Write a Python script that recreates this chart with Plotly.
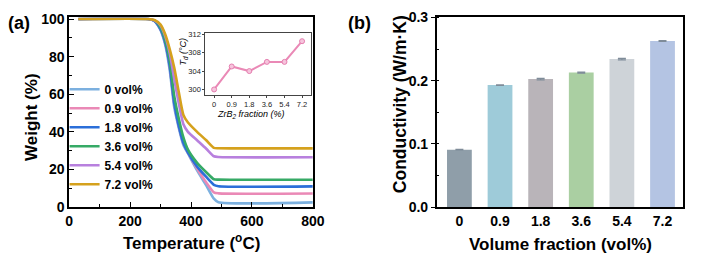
import plotly.graph_objects as go

# ---- Data -------------------------------------------------------------
temp = [30, 260, 280, 300, 315, 330, 345, 360, 375, 390, 420, 450, 475, 490, 800]
w_0_0 = [100, 100, 99.0, 94.0, 86.5, 73.0, 53.0, 42.0, 33.0, 28.5, 19.5, 11.5, 4.5, 2.6, 2.5]
w_0_9 = [100, 100, 99.0, 94.5, 87.5, 75.0, 55.0, 43.0, 34.0, 29.0, 20.5, 13.0, 7.8, 7.3, 7.2]
w_1_8 = [100, 100, 99.0, 94.5, 87.5, 75.0, 55.0, 43.0, 34.0, 29.0, 21.5, 16.0, 11.8, 11.1, 11.0]
w_3_6 = [100, 100, 99.2, 95.5, 89.0, 78.0, 59.0, 47.0, 37.0, 30.5, 23.5, 18.5, 14.8, 14.6, 14.5]
w_5_4 = [100, 100, 99.3, 96.5, 91.0, 82.0, 68.0, 55.0, 44.0, 40.0, 35.5, 31.0, 27.0, 26.6, 26.5]
w_7_2 = [100, 100, 99.5, 97.0, 92.0, 84.0, 74.0, 61.0, 49.0, 45.0, 40.0, 35.5, 31.5, 31.3, 31.2]
series_names = ["0 vol%", "0.9 vol%", "1.8 vol%", "3.6 vol%", "5.4 vol%", "7.2 vol%"]
series_vals = [w_0_0, w_0_9, w_1_8, w_3_6, w_5_4, w_7_2]
series_colors = ["#7cb0df", "#ea89b6", "#2b6fd9", "#36aa66", "#b880de", "#d5a11d"]

inset_cats = ["0", "0.9", "1.8", "3.6", "5.4", "7.2"]
inset_td = [300, 305, 304, 306, 306, 310.5]

bar_cats = ["0", "0.9", "1.8", "3.6", "5.4", "7.2"]
bar_vals = [0.0907, 0.193, 0.2025, 0.2127, 0.234, 0.2628]
bar_err = [0.0004, 0.0004, 0.0012, 0.0007, 0.0013, 0.0007]
bar_colors = ["#8f9ea9", "#9ecbd9", "#b9b4b9", "#aacfa2", "#ced3d8", "#b4c4e3"]

# ---- Geometry helpers --------------------------------------------------
W, H = 705, 268
def px(x):
    return x / W
def py(y):
    return 1 - y / H

FONT = "Arial, Liberation Sans, sans-serif"

fig = go.Figure()

for name, vals, col in zip(series_names, series_vals, series_colors):
    fig.add_trace(go.Scatter(
        x=temp, y=vals, name=name, mode="lines",
        line=dict(color=col, width=2.6, shape="spline", smoothing=0.6),
        xaxis="x", yaxis="y", showlegend=True))

fig.add_trace(go.Scatter(
    x=inset_cats, y=inset_td, mode="lines+markers", showlegend=False,
    line=dict(color="#ea89b6", width=2),
    marker=dict(symbol="circle", size=5, color="#f6c4dc", line=dict(color="#e57fb0", width=1)),
    xaxis="x3", yaxis="y3"))

fig.add_trace(go.Bar(
    x=bar_cats, y=bar_vals, showlegend=False,
    marker=dict(color=bar_colors, line=dict(width=0)),
    width=0.61,
    error_y=dict(type="data", array=bar_err, color="#7f8c99", thickness=1.2, width=4),
    xaxis="x2", yaxis="y2"))

axis_common = dict(showline=True, linecolor="black", linewidth=1.5, mirror=True,
                   showgrid=False, zeroline=False, ticklabeloverflow="allow",
                   tickfont=dict(family=FONT, size=14, color="black", weight="bold"))

ydom = [py(211.7), py(10)]

fig.update_layout(
    width=W, height=H, margin=dict(l=0, r=0, t=0, b=0),
    paper_bgcolor="white", plot_bgcolor="white",
    font=dict(family=FONT, color="black"),
    xaxis=dict(domain=[px(66.7), px(316)], range=[0, 800], dtick=200,
               ticks="inside", ticklen=5, tickwidth=1.3, tickcolor="black",
               minor=dict(dtick=100, ticks="inside", ticklen=3, tickcolor="black"),
               anchor="y", **axis_common),
    yaxis=dict(domain=ydom, range=[0, 100.85], dtick=20,
               ticks="inside", ticklen=5, tickwidth=1.3, tickcolor="black",
               minor=dict(dtick=10, ticks="inside", ticklen=3, tickcolor="black"),
               anchor="x", **axis_common),
    xaxis2=dict(domain=[px(442.7), px(695)], range=[-0.56, 5.51], type="category",
                ticks="", anchor="y2", **axis_common),
    yaxis2=dict(domain=ydom, range=[0, 0.3], dtick=0.1, tickformat=".1f",
                ticks="outside", ticklen=4, tickwidth=1.3, tickcolor="black",
                minor=dict(dtick=0.05, ticks="inside", ticklen=3, tickcolor="black"),
                anchor="x2", **axis_common),
    xaxis3=dict(domain=[px(206), px(314)], range=[-0.5, 5.5], type="category",
                showline=True, linecolor="#444", linewidth=1, mirror=True,
                showgrid=False, zeroline=False, ticks="outside", ticklen=2,
                tickcolor="#444",
                tickfont=dict(family=FONT, size=7.5, color="#222"), anchor="y3"),
    yaxis3=dict(domain=[py(92), py(27)], range=[298.9, 312.2], tickvals=[300, 304, 308, 312],
                showline=True, linecolor="#444", linewidth=1, mirror=True,
                showgrid=False, zeroline=False, ticks="outside", ticklen=2,
                tickcolor="#444",
                tickfont=dict(family=FONT, size=7.5, color="#222"), anchor="x3"),
    legend=dict(x=px(62), y=py(71), xanchor="left", yanchor="top",
                bgcolor="rgba(0,0,0,0)", borderwidth=0,
                font=dict(family=FONT, size=12, color="black", weight="bold"),
                itemwidth=30, tracegroupgap=0),
)

ann = [
    ("<b>(a)</b>", 15, 16, 0, 18),
    ("<b>(b)</b>", 364, 16, 0, 18),
    ("<b>Weight (%)</b>", 27.5, 116, -90, 17),
    ("<b>Temperature (<sup>o</sup>C)</b>", 191.7, 249, 0, 17),
    ("<b>Conductivity (W/m·K)</b>", 406, 102.5, -90, 17.5),
    ("<b>Volume fraction (vol%)</b>", 569, 251.5, 0, 17),
    ("<i>T<sub>d</sub> (°C)</i>", 184, 46.5, -90, 9),
    ("<i>ZrB<sub>2</sub> fraction (%)</i>", 252.5, 113, 0, 9),
]
for text, x, y, ang, size in ann:
    fig.add_annotation(text=text, x=px(x), y=py(y), xref="paper", yref="paper",
                       xanchor="center", yanchor="middle", textangle=ang,
                       showarrow=False, font=dict(family=FONT, size=size, color="black"))

fig.write_html(
    "out.html",
    config={"displayModeBar": False},
    post_script="document.body.style.margin='0';document.body.style.padding='0';"
                "document.documentElement.style.overflow='hidden';",
)
